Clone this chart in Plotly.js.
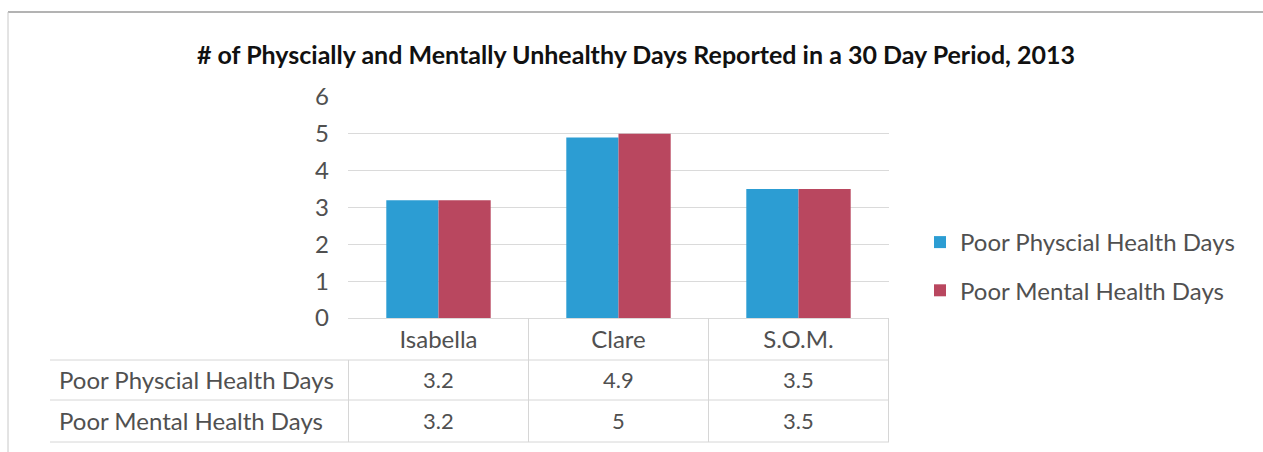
<!DOCTYPE html>
<html>
<head>
<meta charset="utf-8">
<script src="https://cdn.plot.ly/plotly-3.0.1.min.js"></script>
<style>html,body{margin:0;padding:0;background:#fff;}#chart{width:1263px;height:452px;}</style>
</head>
<body>
<div id="chart"></div>
<script>
// ---- data ----
const categories = ["Isabella", "Clare", "S.O.M."];
const physicalDays = [3.2, 4.9, 3.5];
const mentalDays = [3.2, 5, 3.5];
const seriesNames = ["Poor Physcial Health Days", "Poor Mental Health Days"];
const yTicks = [0, 1, 2, 3, 4, 5, 6];
const chartTitle = "# of Physcially and Mentally Unhealthy Days Reported in a 30 Day Period, 2013";

// ---- layout geometry (pixels) ----
const W = 1263, H = 452;
const L = 348, R = 889, T = 97, B = 318;
const PW = R - L, PH = B - T;
const px = x => (x - L) / PW;      // pixel x -> paper
const py = y => (B - y) / PH;      // pixel y -> paper

const blue = "#2c9dd3", red = "#b9475f";
const textCol = "#505050";
const gridCol = "#dadada";
const fontFam = "Lato, 'Open Sans', sans-serif";
const fs = 24;

const traces = [
  {type: "bar", x: categories, y: physicalDays, name: seriesNames[0],
   marker: {color: blue}, legendgroup: "a", hoverinfo: "x+y"},
  {type: "bar", x: categories, y: mentalDays, name: seriesNames[1],
   marker: {color: red}, legendgroup: "b", hoverinfo: "x+y"}
];

const shapes = [];
const lineStyle = {color: "#d6d6d6", width: 1};
// table horizontal lines
[360, 400, 442].forEach(y => shapes.push({type: "line", xref: "paper", yref: "paper",
  x0: px(50), x1: px(R), y0: py(y), y1: py(y), line: lineStyle}));
// table vertical separators at category boundaries
for (let i = 0; i <= categories.length; i++) {
  shapes.push({type: "line", xref: "x", yref: "paper", x0: i - 0.5, x1: i - 0.5,
    y0: i === 0 ? py(360) : py(B), y1: py(442), line: lineStyle});
}
// outer frame (top + left)
shapes.push({type: "line", xref: "paper", yref: "paper", x0: px(8), x1: px(W), y0: py(12), y1: py(12), line: {color: "#9a9a9a", width: 1.5}});
shapes.push({type: "line", xref: "paper", yref: "paper", x0: px(8), x1: px(8), y0: py(12), y1: py(H), line: {color: "#c8c8c8", width: 1}});

const annotations = [];
const rows = [physicalDays, mentalDays];
const rowY = [379, 420];
rows.forEach((vals, r) => {
  annotations.push({xref: "paper", yref: "paper", x: px(57), y: py(rowY[r]), xanchor: "left", yanchor: "middle",
    text: seriesNames[r], showarrow: false, font: {family: fontFam, size: fs, color: textCol}});
  vals.forEach((v, i) => annotations.push({xref: "x", yref: "paper", x: categories[i], y: py(rowY[r]),
    xanchor: "center", yanchor: "middle", text: String(v), showarrow: false,
    font: {family: fontFam, size: 22, color: textCol}}));
});

const layout = {
  width: W, height: H,
  margin: {l: L, r: W - R, t: T, b: H - B, pad: 0},
  paper_bgcolor: "#fff", plot_bgcolor: "#fff",
  title: {text: chartTitle, x: 636 / W, xref: "container", xanchor: "center",
          y: 1 - 55 / H, yref: "container", yanchor: "middle",
          font: {family: fontFam, size: 25, color: "#111", weight: "bold"}},
  barmode: "group", bargap: 0.42, bargroupgap: 0,
  xaxis: {type: "category", showgrid: false, zeroline: false, showline: true, linecolor: gridCol,
          ticks: "", tickfont: {family: fontFam, size: fs, color: textCol}, fixedrange: true},
  yaxis: {range: [0, 6], tickvals: yTicks, showgrid: true, gridcolor: gridCol, zeroline: false,
          showline: false, ticks: "", ticklabelstandoff: 18,
          tickfont: {family: fontFam, size: 24, color: textCol}, fixedrange: true},
  showlegend: true,
  legend: {x: px(920), y: py(220), xref: "paper", yref: "paper", xanchor: "left", yanchor: "top",
           traceorder: "grouped", tracegroupgap: 14, itemwidth: 30,
           font: {family: fontFam, size: fs, color: textCol}, bgcolor: "rgba(0,0,0,0)"},
  shapes: shapes,
  annotations: annotations
};

Plotly.newPlot("chart", traces, layout, {displayModeBar: false, staticPlot: true});
</script>
</body>
</html>
